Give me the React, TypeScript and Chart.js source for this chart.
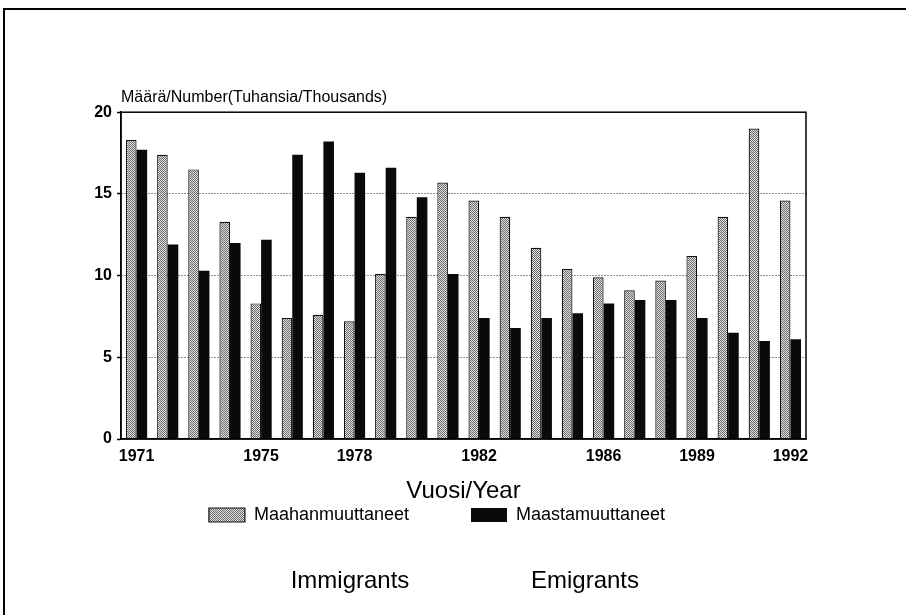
import React, { useEffect, useRef } from "react";
import { Chart, registerables } from "chart.js";

Chart.register(...registerables);

const years = [
  "1971", "1972", "1973", "1974", "1975", "1976", "1977", "1978", "1979", "1980", "1981",
  "1982", "1983", "1984", "1985", "1986", "1987", "1988", "1989", "1990", "1991", "1992",
];
const shownYears = ["1971", "1975", "1978", "1982", "1986", "1989", "1992"];
const immigrants = [
  18.3, 17.4, 16.5, 13.3, 8.3, 7.4, 7.6, 7.2, 10.1, 13.6, 15.7,
  14.6, 13.6, 11.7, 10.4, 9.9, 9.1, 9.7, 11.2, 13.6, 19.0, 14.6,
];
const emigrants = [
  17.7, 11.9, 10.3, 12.0, 12.2, 17.4, 18.2, 16.3, 16.6, 14.8, 10.1,
  7.4, 6.8, 7.4, 7.7, 8.3, 8.5, 8.5, 7.4, 6.5, 6.0, 6.1,
];
const seriesNames = ["Maahanmuuttaneet", "Maastamuuttaneet"];
const englishNames = ["Immigrants", "Emigrants"];
const yTitle = "Määrä/Number(Tuhansia/Thousands)";
const xTitle = "Vuosi/Year";

const FONT = "'Liberation Sans', Arial, Helvetica, sans-serif";

function makeStipple(): CanvasPattern | string {
  const c = document.createElement("canvas");
  c.width = 2;
  c.height = 2;
  const g = c.getContext("2d");
  if (!g) return "#a8a8a8";
  g.fillStyle = "#e2e2e2";
  g.fillRect(0, 0, 2, 2);
  g.fillStyle = "#6a6a6a";
  g.fillRect(0, 0, 1, 1);
  g.fillRect(1, 1, 1, 1);
  const p = g.createPattern(c, "repeat");
  return p || "#a8a8a8";
}

const framePlugin = {
  id: "plotFrame",
  afterDatasetsDraw(chart: any) {
    const { ctx, chartArea } = chart;
    const { left, top, right, bottom } = chartArea;
    ctx.save();
    ctx.strokeStyle = "#000";
    ctx.lineWidth = 1.5;
    ctx.strokeRect(left, top, right - left, bottom - top);
    ctx.restore();
  },
};

export default function App() {
  const ref = useRef<HTMLCanvasElement | null>(null);

  useEffect(() => {
    if (!ref.current) return;
    const stipple = makeStipple();
    const chart = new Chart(ref.current, {
      type: "bar",
      data: {
        labels: years,
        datasets: [
          {
            label: seriesNames[0],
            data: immigrants,
            backgroundColor: stipple as any,
            borderColor: "#111",
            borderWidth: 1.2,
            categoryPercentage: 0.68,
            barPercentage: 1.0,
          },
          {
            label: seriesNames[1],
            data: emigrants,
            backgroundColor: "#0a0a0a",
            borderColor: "#0a0a0a",
            borderWidth: 0,
            categoryPercentage: 0.68,
            barPercentage: 1.0,
          },
        ],
      },
      options: {
        responsive: false,
        animation: false,
        layout: { padding: { left: 68, right: 100, top: 0, bottom: 81 } },
        plugins: {
          tooltip: { enabled: false },
          title: {
            display: true,
            text: yTitle,
            align: "start",
            fullSize: false,
            color: "#000",
            font: { family: FONT, size: 16, weight: "normal" },
            padding: { top: 88, bottom: 5 },
          },
          legend: {
            display: true,
            position: "bottom",
            labels: {
              color: "#000",
              font: { family: FONT, size: 18 },
              boxWidth: 36,
              boxHeight: 14,
              padding: 62,
            },
          },
        },
        scales: {
          x: {
            afterFit: (s: any) => {
              s.height = 5;
            },
            grid: { display: false, drawTicks: false },
            border: { display: true, color: "#000", width: 1.5 },
            ticks: {
              autoSkip: false,
              maxRotation: 0,
              minRotation: 0,
              mirror: true,
              padding: -27,
              color: "#000",
              font: { family: FONT, size: 16, weight: "bold" },
              callback: function (this: any, _v: any, i: number) {
                const lbl = years[i];
                return shownYears.includes(lbl) ? lbl : "";
              },
            },
            title: {
              display: true,
              text: xTitle,
              color: "#000",
              font: { family: FONT, size: 24 },
              padding: { top: 0, bottom: -62 },
            },
          },
          y: {
            min: 0,
            max: 20,
            afterFit: (s: any) => {
              s.width = 53;
            },
            grid: {
              color: (ctx: any) =>
                ctx.tick && (ctx.tick.value === 0 || ctx.tick.value === 20) ? "rgba(0,0,0,0)" : "#222",
              lineWidth: 1,
              drawTicks: true,
              tickLength: 4,
              tickColor: "#000",
              tickWidth: 1.5,
              tickBorderDash: [],
            },
            border: { display: true, color: "#000", width: 1.5, dash: [1, 2] },
            ticks: {
              stepSize: 5,
              padding: 5,
              color: "#000",
              font: { family: FONT, size: 16, weight: "bold" },
            },
          },
        },
      },
      plugins: [framePlugin],
    });
    return () => chart.destroy();
  }, []);

  const bottomLabel = (left: number, text: string) => (
    <div
      style={{
        position: "absolute",
        left,
        top: 567,
        width: 200,
        textAlign: "center",
        lineHeight: "26px",
        fontFamily: FONT,
        fontSize: 24,
        color: "#000",
      }}
    >
      {text}
    </div>
  );

  return (
    <div style={{ position: "absolute", left: 0, top: 0, width: 906, height: 615, background: "#fff", overflow: "hidden" }}>
      <div
        style={{
          position: "absolute",
          left: 3,
          top: 8,
          right: 0,
          bottom: 0,
          borderLeft: "2px solid #000",
          borderTop: "2px solid #000",
        }}
      />
      <canvas ref={ref} width={906} height={615} style={{ position: "absolute", left: 0, top: 0 }} />
      {bottomLabel(250, englishNames[0])}
      {bottomLabel(485, englishNames[1])}
    </div>
  );
}
